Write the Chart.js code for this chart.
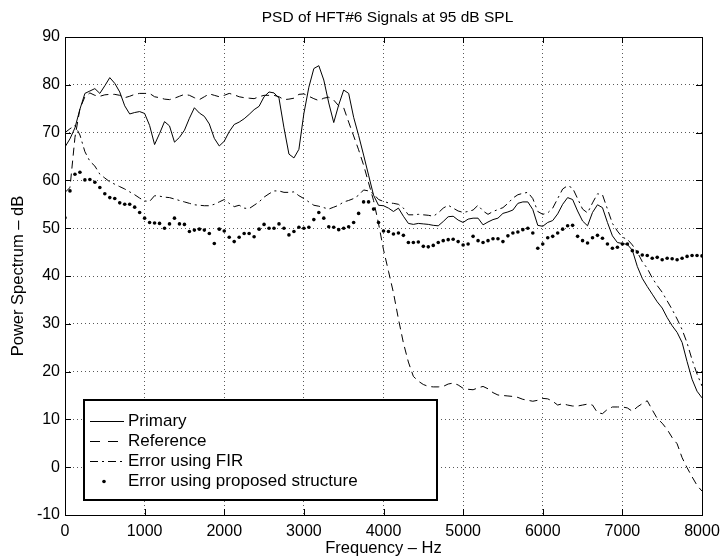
<!DOCTYPE html>
<html>
<head>
<meta charset="utf-8">
<title>PSD of HFT#6 Signals at 95 dB SPL</title>
<script src="https://cdn.jsdelivr.net/npm/chart.js@4.4.1/dist/chart.umd.min.js"></script>
<style>
  html, body { margin: 0; padding: 0; background: #fff; }
  #wrap { width: 722px; height: 560px; }
</style>
</head>
<body>
<div id="wrap"><canvas id="psd"></canvas></div>
<script>
// 129 PSD bins, 62.5 Hz apart (0 .. 8000 Hz)
const freq = Array.from({ length: 129 }, (_, i) => i * 62.5);

const primary = [
  67.0, 68.7, 71.0, 74.9, 78.2, 78.7, 79.2, 78.2, 79.8, 81.5, 80.3, 78.5, 75.6, 73.9, 74.2, 74.4,
  74.0, 71.5, 67.5, 69.8, 72.3, 71.4, 68.0, 69.0, 70.5, 73.0, 75.2, 74.1, 73.4, 71.8, 68.8, 67.2,
  68.2, 70.2, 71.7, 72.2, 72.9, 73.8, 74.8, 75.5, 77.5, 78.5, 78.3, 77.2, 71.0, 65.5, 64.7, 66.5,
  74.0, 79.5, 83.4, 84.0, 81.0, 76.2, 72.1, 75.8, 78.9, 78.2, 73.2, 69.4, 65.3, 61.1, 56.9, 54.8,
  54.7, 54.2, 53.5, 54.2, 52.5, 51.0, 50.8, 51.0, 50.9, 50.8, 50.6, 50.5, 51.4, 52.4, 52.5, 51.7,
  51.2, 51.9, 52.1, 52.1, 50.7, 51.3, 51.8, 52.1, 53.1, 53.4, 53.8, 55.2, 55.5, 55.5, 53.9, 50.6,
  50.4, 51.2, 51.6, 53.0, 55.0, 56.4, 56.0, 53.6, 51.5, 50.5, 53.3, 54.9, 54.3, 51.2, 48.4, 47.0,
  46.8, 46.6, 45.4, 42.0, 39.5, 37.8, 36.2, 34.6, 33.3, 31.3, 29.6, 28.2, 26.1, 22.1, 18.4, 15.9,
  14.5
];

const reference = [
  57.5, 58.5, 69.0, 75.0, 77.5, 78.3, 77.8, 77.6, 77.9, 78.0, 78.0, 77.8, 77.3, 77.6, 78.0, 78.2,
  78.2, 78.2, 77.5, 77.3, 77.0, 76.9, 77.2, 77.6, 78.0, 77.8, 77.3, 76.9, 77.5, 78.1, 77.8, 77.5,
  77.8, 78.2, 77.9, 77.5, 77.3, 77.2, 77.1, 77.5, 77.8, 77.8, 77.8, 77.5, 76.9, 77.0, 77.2, 78.0,
  78.1, 77.6, 77.1, 76.7, 77.2, 77.4, 76.8, 75.6, 75.2, 72.2, 69.3, 66.4, 63.2, 59.5, 55.8, 51.0,
  45.5, 41.0, 36.5, 31.0, 26.0, 22.0, 19.0, 18.0, 17.3, 16.9, 16.8, 16.8, 16.9, 17.4, 17.6, 17.2,
  16.5, 16.3, 16.2, 16.6, 16.9, 16.4, 15.6, 15.1, 15.0, 14.9, 14.8, 14.6, 14.2, 14.0, 13.8, 14.0,
  14.4, 14.3, 13.8, 13.0, 13.3, 13.0, 12.8, 12.8, 13.0, 13.2, 13.0, 11.4, 11.2, 12.1, 12.6, 12.6,
  12.6, 12.4, 11.7, 12.6, 13.3, 13.9, 12.0, 10.2, 9.2, 7.9, 6.2, 4.9, 2.0, -0.1, -2.0, -3.8,
  -5.0
];

const errorFir = [
  70.0, 70.8, 71.5, 69.5, 66.0, 64.0, 63.0, 61.3, 60.5, 59.7, 59.2, 58.7, 58.2, 57.6, 57.0, 56.3,
  55.7, 55.6, 56.8, 56.7, 56.5, 56.4, 56.1, 55.8, 55.5, 55.2, 54.9, 54.8, 54.7, 54.7, 55.0, 55.5,
  56.0, 55.2, 54.5, 54.8, 54.2, 54.1, 54.8, 55.5, 56.5, 57.2, 57.8, 57.8, 57.5, 57.5, 57.6, 56.8,
  56.2, 55.5, 54.8, 54.6, 54.3, 54.0, 54.4, 54.8, 55.5, 55.8, 56.2, 56.9, 58.0, 57.8, 57.2, 56.0,
  55.6, 55.3, 55.2, 55.0, 54.2, 52.8, 52.8, 52.9, 52.8, 52.7, 52.5, 53.2, 54.2, 54.8, 54.2, 53.6,
  53.3, 53.5, 53.8, 54.8, 53.6, 52.9, 53.5, 53.9, 54.3, 55.2, 56.3, 57.0, 57.3, 57.5, 56.2, 53.5,
  52.9, 53.2, 54.2, 56.2, 58.2, 58.9, 58.4, 56.2, 54.0, 53.2, 55.3, 57.2, 57.0, 54.0, 51.0, 49.4,
  48.1, 47.7, 46.5, 45.0, 43.0, 41.6, 39.6, 38.0, 36.6, 34.8, 33.0, 31.0, 28.8, 26.0, 22.5, 19.5,
  17.0
];

const errorProposed = [
  52.2, 57.8, 61.3, 61.7, 60.1, 60.2, 59.6, 58.5, 57.2, 56.4, 56.2, 55.3, 55.0, 55.0, 54.4, 53.3,
  52.1, 51.2, 51.1, 51.0, 50.0, 50.9, 52.1, 50.9, 50.8, 49.3, 49.6, 49.8, 49.6, 48.9, 46.8, 49.8,
  49.4, 48.1, 47.2, 48.1, 48.9, 48.9, 48.2, 49.8, 50.8, 50.0, 50.0, 50.9, 50.0, 48.6, 49.3, 50.2,
  50.0, 50.2, 51.8, 53.3, 52.1, 50.3, 50.2, 49.7, 50.0, 50.3, 51.2, 53.1, 55.5, 55.5, 54.0, 51.2,
  49.4, 49.3, 48.8, 49.0, 48.5, 47.0, 47.0, 47.1, 46.2, 46.1, 46.4, 47.0, 47.4, 47.6, 47.7, 47.2,
  46.5, 46.7, 48.3, 47.4, 47.0, 47.4, 47.8, 47.8, 47.2, 48.4, 49.0, 49.2, 49.7, 50.0, 49.0, 45.8,
  46.7, 48.0, 48.3, 49.0, 49.8, 50.5, 50.6, 48.3, 47.4, 46.9, 48.0, 48.5, 47.9, 46.7, 45.8, 46.0,
  46.7, 46.7, 45.3, 45.0, 44.4, 44.3, 43.7, 43.9, 43.4, 43.7, 43.6, 43.4, 43.7, 44.1, 44.3, 44.3,
  44.2
];

const seriesNames = ['Primary', 'Reference', 'Error using FIR', 'Error using proposed structure'];
const xTicks = [0, 1000, 2000, 3000, 4000, 5000, 6000, 7000, 8000];
const yTicks = [-10, 0, 10, 20, 30, 40, 50, 60, 70, 80, 90];
const chartTitle = 'PSD of HFT#6 Signals at 95 dB SPL';

const FONT = '"Liberation Sans", Arial, Helvetica, sans-serif';
const dashRef = [8, 5];
const dashFir = [8, 4, 2, 4];

function pts(vals) {
  return freq.map((f, i) => ({ x: f, y: vals[i] }));
}

// box around the axes, inward tick marks, title over the axes and the legend (matlab look)
const matlabAxes = {
  id: 'matlabAxes',
  afterDatasetsDraw(chart) {
    const { ctx, chartArea: a, scales } = chart;
    ctx.save();
    ctx.strokeStyle = '#000';
    ctx.lineWidth = 1;
    ctx.setLineDash([]);
    ctx.beginPath();
    xTicks.forEach(v => {
      const px = Math.round(scales.x.getPixelForValue(v)) + 0.5;
      ctx.moveTo(px, a.bottom); ctx.lineTo(px, a.bottom - 6);
      ctx.moveTo(px, a.top); ctx.lineTo(px, a.top + 6);
    });
    yTicks.forEach(v => {
      const py = Math.round(scales.y.getPixelForValue(v)) + 0.5;
      ctx.moveTo(a.left, py); ctx.lineTo(a.left + 6, py);
      ctx.moveTo(a.right, py); ctx.lineTo(a.right - 6, py);
    });
    ctx.stroke();
    ctx.strokeRect(Math.round(a.left) + 0.5, Math.round(a.top) + 0.5,
      Math.round(a.right - a.left), Math.round(a.bottom - a.top));

    ctx.fillStyle = '#000';
    ctx.font = '15.5px ' + FONT;
    ctx.textAlign = 'center';
    ctx.textBaseline = 'middle';
    ctx.fillText(chartTitle, (a.left + a.right) / 2 + 4, 18);

    // legend
    const lx = 84, ly = 400, lw = 353, lh = 100;
    ctx.fillStyle = '#fff';
    ctx.fillRect(lx, ly, lw, lh);
    ctx.lineWidth = 2;
    ctx.strokeRect(lx, ly, lw, lh);
    ctx.lineWidth = 1;
    ctx.font = '17px ' + FONT;
    ctx.textAlign = 'left';
    ctx.fillStyle = '#000';
    const rows = [421, 441, 461, 481];
    const dashes = [[], [10, 8], dashFir, null];
    seriesNames.forEach((name, i) => {
      const y = rows[i] + 0.5;
      if (dashes[i]) {
        ctx.setLineDash(dashes[i]);
        ctx.beginPath();
        ctx.moveTo(90, y); ctx.lineTo(124, y);
        ctx.stroke();
        ctx.setLineDash([]);
      } else {
        ctx.beginPath();
        ctx.arc(104, y, 1.8, 0, Math.PI * 2);
        ctx.fill();
      }
      ctx.fillText(name, 128, rows[i]);
    });
    ctx.restore();
  }
};

new Chart(document.getElementById('psd'), {
  type: 'line',
  data: {
    datasets: [
      { label: seriesNames[0], data: pts(primary), borderColor: '#000', borderWidth: 1, pointRadius: 0, tension: 0 },
      { label: seriesNames[1], data: pts(reference), borderColor: '#000', borderWidth: 1, borderDash: dashRef, pointRadius: 0 },
      { label: seriesNames[2], data: pts(errorFir), borderColor: '#000', borderWidth: 1, borderDash: dashFir, pointRadius: 0 },
      { label: seriesNames[3], data: pts(errorProposed), showLine: false, pointRadius: 1.8, pointHoverRadius: 1.8,
        pointBackgroundColor: '#000', pointBorderWidth: 0, borderColor: '#000' }
    ]
  },
  options: {
    responsive: true,
    maintainAspectRatio: false,
    animation: false,
    events: [],
    layout: { padding: { left: 0, right: 20, top: 37, bottom: 0 } },
    plugins: {
      legend: { display: false },
      tooltip: { enabled: false },
      title: { display: false }
    },
    scales: {
      x: {
        type: 'linear',
        min: 0, max: 8000,
        afterFit: s => { s.height = 45; s.paddingLeft = 0; s.paddingRight = 0; },
        afterBuildTicks: s => { s.ticks = xTicks.map(v => ({ value: v })); },
        ticks: { color: '#000', font: { family: FONT, size: 16 }, padding: 7, maxRotation: 0,
          callback: v => String(v) },
        grid: { color: 'rgba(0,0,0,0.65)', lineWidth: 1, drawTicks: false },
        border: { display: false, dash: [1, 3] },
        title: {
          display: true, text: 'Frequency \u2013 Hz', color: '#000',
          font: { family: FONT, size: 16.5, lineHeight: 1.2 }, padding: { top: 0, bottom: 2 }
        }
      },
      y: {
        min: -10, max: 90,
        afterFit: s => { s.width = 65; },
        afterBuildTicks: s => { s.ticks = yTicks.map(v => ({ value: v })); },
        ticks: { color: '#000', font: { family: FONT, size: 16 }, padding: 5, callback: v => String(v) },
        grid: { color: 'rgba(0,0,0,0.65)', lineWidth: 1, drawTicks: false },
        border: { display: false, dash: [1, 3] },
        title: {
          display: true, text: 'Power Spectrum \u2013 dB', color: '#000',
          font: { family: FONT, size: 16.5, lineHeight: 1.2 }, padding: { top: 9, bottom: 0 }
        }
      }
    }
  },
  plugins: [matlabAxes]
});
</script>
</body>
</html>
